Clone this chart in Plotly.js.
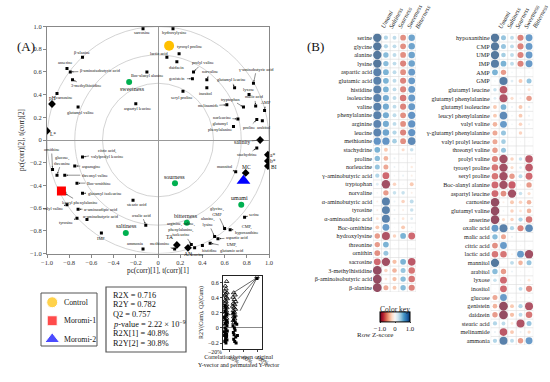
<!DOCTYPE html>
<html><head><meta charset="utf-8">
<script src="https://cdn.plot.ly/plotly-3.0.1.min.js"></script>
<style>html,body{margin:0;padding:0;background:#fff}#chart{width:550px;height:382px}</style>
</head><body><div id="chart"></div>
<script>
// ================= Panel A data =================
const groupNames = ['Control','Moromi-1','Moromi-2'];
const groupX = [0.10, -0.87, 0.77];
const groupY = [0.83, -0.45, -0.36];

const varNames = ['sarcosine','hydroxylysine','lactic acid','tyrosyl proline','daidzein','Boc-alanyl alanine','prolyl valine','norvaline','genistein','inositol','seryl proline','aspartyl leucine','β-alanine','anserine','β-aminoisobutyric acid','3-methylhistidine','carnosine','glutamyl valine','γ-aminobutyric acid','glutamyl leucine','lyxose','tryptophan','malic acid','AMP','melinamide','norleucine','glutamyl<br>phenylalanine','proline','arabitol','stachydrine','mannitol','serine','glycine,<br>GMP','alanine,<br>lysine','CMP,<br>hypoxanthine','aspartic acid','UMP,<br>glutamic acid','histidine','leucine','arginine, valine,<br>phenylalanine,<br>isoleucine','methionine','ammonia','IMP','oxalic acid','stearic acid','citric acid,<br>valylprolyl leucine','ornithine','glucose,<br>threonine','asparagine','threonyl valine','Boc-ornithine','leucyl phenylalanine','glutamyl isoleucine','valyl valine','α-aminoadipic acid','tyrosine','α-aminobutyric acid'];
const varX = [-0.135,0.135,0.08,0.19,0.17,-0.10,0.32,0.44,0.31,0.44,0.225,-0.20,-0.68,-0.82,-0.79,-0.77,-0.91,-0.72,0.86,0.69,0.82,0.77,0.88,0.96,0.62,0.72,0.68,0.89,0.94,0.89,0.70,0.78,0.60,0.51,0.65,0.54,0.47,0.40,0.33,0.30,0.15,-0.135,-0.51,-0.11,-0.225,-0.68,-0.95,-0.91,-0.75,-0.84,-0.73,-0.84,-0.68,-0.82,-0.72,-0.73,-0.64];
const varY = [0.98,0.98,0.73,0.76,0.69,0.60,0.60,0.53,0.54,0.46,0.43,0.32,0.73,0.63,0.60,0.53,0.41,0.29,0.50,0.46,0.40,0.29,0.30,0.26,0.31,0.185,0.12,0.18,0.17,-0.07,-0.28,-0.68,-0.78,-0.85,-0.79,-0.87,-0.91,-0.93,-0.95,-0.92,-0.96,-0.96,-0.82,-0.75,-0.53,-0.15,-0.26,-0.31,-0.23,-0.31,-0.38,-0.47,-0.47,-0.57,-0.61,-0.69,-0.70];

const propNames = ['pH','L*','a*','b*','BI','salinity','MC','TA','AN'];
const propX = [-0.955,-1.0,0.99,0.99,0.99,0.92,0.79,0.17,0.27];
const propY = [0.317,0.08,-0.13,-0.185,-0.23,0.0,-0.29,-0.925,-0.95];

const tasteNames = ['sweetness','sourness','umami','bitterness','saltiness'];
const tasteX = [-0.26,0.153,0.75,0.26,-0.29];
const tasteY = [0.51,-0.38,-0.57,-0.73,-0.82];

const axTicks = [-1,-0.8,-0.6,-0.4,-0.2,0,0.2,0.4,0.6,0.8,1];
const axTickText = ['−1.0','−0.8','−0.6','−0.4','−0.2','0','0.2','0.4','0.6','0.8','1.0'];
const guideRadii = [0.5,0.75,1.0];

const statLines = ['R2X = 0.716','R2Y = 0.782','Q2 = 0.757','<i>p</i>-value = 2.22 × 10<sup>−9</sup>','R2X[1] = 40.8%','R2Y[2] = 30.8%'];

// permutation test
const permTriX = [0.10,0.06,0.08,0.05,0.11,0.07,0.04,0.09,0.12,0.06,0.08,0.05,0.10,0.07,0.11,0.04,0.09,0.06,0.12,0.08,0.05,0.10,0.07,0.03,0.09,0.06,
                  0.31,0.35,0.29,0.33,0.37,0.30,0.34,0.28,0.32,0.36,0.30,0.33,0.29,0.35,0.31,0.34,0.30,0.32, 1.0];
const permTriY = [0.62,0.56,0.52,0.49,0.47,0.45,0.43,0.41,0.39,0.37,0.35,0.33,0.31,0.29,0.27,0.25,0.23,0.21,0.19,0.17,0.15,0.13,0.11,0.09,0.07,0.05,
                  0.47,0.44,0.41,0.38,0.35,0.33,0.31,0.29,0.27,0.25,0.23,0.21,0.19,0.17,0.15,0.12,0.10,0.07, 0.68];
const permSqX = [0.05,0.08,0.06,0.10,0.04,0.09,0.07,0.11,0.05,0.08,0.12,0.06,0.10,0.04,0.09,0.07,0.11,0.05,0.08,0.12,0.03,0.10,0.06,
                 0.30,0.34,0.31,0.36,0.29,0.33,0.35,0.30,0.32,0.37,0.31,0.34,0.38,0.40,0.42, 1.0];
const permSqY = [0.30,0.26,0.22,0.18,0.14,0.10,0.06,0.03,0.0,-0.02,-0.04,-0.06,-0.08,-0.10,-0.12,-0.14,-0.16,-0.18,-0.20,0.08,-0.05,-0.11,-0.17,
                 0.20,0.15,0.11,0.07,0.03,0.0,-0.03,-0.06,-0.09,-0.12,-0.15,-0.18,-0.20,0.05,-0.10, 0.66];
const permLineX = [[1.0,0.30],[1.0,0.44],[1.0,0.50]];
const permLineY = [[0.67,0.47],[0.67,0.39],[0.67,0.23]];

// ================= Panel B data =================
const heatCols = ['Umami','Saltiness','Sourness','Sweetness','Bitterness'];
const leftRows = ['serine','glycine','alanine','lysine','aspartic acid','glutamic acid','histidine','isoleucine','valine','phenylalanine','arginine','leucine','methionine','stachydrine','proline','norleucine','γ-aminobutyric acid','tryptophan','norvaline','α-aminobutyric acid','tyrosine','α-aminoadipic acid','Boc-ornithine','hydroxylysine','threonine','ornithin','sacrosine','3-methylhistidine','β-aminoisobutyric acid','β-alanine'];
const leftVals = [
 [0.95,0.40,0.35,-0.60,0.70],[0.95,0.40,0.35,-0.60,0.70],[0.95,0.55,0.35,-0.60,0.70],[0.95,0.55,0.35,-0.65,0.70],
 [0.90,0.60,0.35,-0.60,0.75],[0.90,0.60,0.35,-0.65,0.75],[0.90,0.60,0.35,-0.65,0.75],[0.90,0.65,0.35,-0.70,0.75],
 [0.90,0.65,0.35,-0.65,0.75],[0.90,0.65,0.35,-0.60,0.80],[0.88,0.65,0.35,-0.60,0.80],[0.88,0.70,0.40,-0.65,0.80],
 [0.80,0.80,0.45,-0.60,0.85],[0.60,-0.35,0.05,-0.25,0.30],[0.55,-0.45,0.10,0.02,-0.05],[0.50,-0.50,0.10,0.02,-0.15],
 [0.40,-0.75,0.05,0.10,-0.10],[0.20,-0.95,-0.30,0.03,-0.35],[0.05,-0.55,0.30,0.30,-0.10],[-0.10,0.90,0.10,-0.30,0.35],
 [-0.10,0.90,0.10,-0.10,0.30],[-0.20,0.90,0.10,-0.20,0.20],[-0.35,0.75,0.0,-0.35,0.05],[-0.55,-0.90,-0.30,0.60,-0.75],
 [-0.55,0.60,0,0,0],[-0.60,0.50,0,0,0],[-0.75,-0.95,-0.40,0.60,-0.85],[-1.0,-0.30,-0.45,0.50,-0.70],
 [-1.0,-0.20,-0.40,0.55,-0.70],[-1.0,-0.50,-0.35,0.55,-0.65]];
const rightRows = ['hypoxanthine','CMP','UMP','IMP','AMP','GMP','glutamyl leucine','glutamyl phenylalanine','glutamyl isoleucine','leucyl phenylalanine','valyl valine','γ-glutamyl phenylalanine','valyl prolyl leucine','threonyl valine','prolyl valine','tyrosyl proline','seryl proline','Boc-alanyl alanine','aspartyl leucine','carnosine','glutamyl valine','anserine','oxalic acid','malic acid','citric acid','lactic acid','mannitol','arabitol','lyxose','inositol','glucose','genistein','daidzein','stearic acid','melinamide','ammonia'];
const rightVals = [
 [0.95,0.50,0.35,-0.65,0.75],[0.95,0.50,0.35,-0.65,0.75],[0.95,0.45,0.35,-0.65,0.75],[0.92,0.60,0.35,-0.65,0.75],
 [0.60,-0.55,0.05,0.02,0.03],[0.05,0.92,0.20,-0.35,0.50],[0.30,-0.85,0.05,0.03,-0.20],[0.20,-0.90,-0.25,0.10,-0.55],
 [-0.35,0.60,0.10,-0.35,0.15],[-0.35,0.85,0.05,-0.35,0.10],[-0.45,0.75,0.05,-0.30,0.10],[-0.50,0.50,0,-0.30,0],
 [-0.50,0.45,0,0,0],[-0.55,0.50,0,0,0],[-0.65,-0.95,-0.30,0.30,-0.85],[-0.70,-0.95,-0.25,0.20,-0.85],
 [-0.70,-0.95,-0.55,0.35,-0.75],[-0.75,-0.95,-0.80,0.05,-0.55],[-0.75,-0.60,-0.95,0.30,-0.25],[-1.0,-0.10,-0.35,-0.30,-0.45],
 [-1.0,0.05,-0.30,-0.20,-0.45],[-1.0,-0.25,-0.30,0.40,-0.70],[0.75,0.90,0.40,-0.65,0.85],[0.55,-0.50,0.10,0,0],
 [-0.60,0.75,0,0,0],[-0.70,-0.70,-0.10,0.75,-0.95],[0.95,0,0.35,-0.45,0.50],[0.55,-0.55,0.10,0,0],
 [0.30,-0.75,0,0.05,-0.20],[0,-0.75,0,0.35,-0.65],[-0.50,0.75,0,-0.05,0.05],[-0.45,-1.0,-0.35,0.40,-0.90],
 [-0.55,-1.0,-0.40,0.35,-0.70],[0.40,0.35,-0.20,-0.90,0.50],[0.10,-0.85,-0.35,0.10,-0.25],[0.40,0.90,0.35,-0.55,0.75]];

// ================= styles / layout helpers =================
const W = 550, H = 382;
const px = p => p / W, py = p => (H - p) / H;
const SERIF = 'Liberation Serif, Times New Roman, serif';
// label offsets (pixels) for biplot variable labels: [dx, dy, arrow]
const varLab = [[-1,4,0],[2,4,0],[-8,-4,0],[10,-7,0],[0,6,0],[0,4,0],[9,-9,1],[3,-8,1],[-15,0,1],[-1,6,0],[-1,6,0],[2,5,0],[-1,-5,0],[-2,-6,0],[30,-1,1],[13,6,1],[8,4,0],[2,5,0],[3,-14,1],[-3,-8,1],[-1,-5,0],[-13,-8,1],[-1,-9,1],[1,-8,1],[-19,1,1],[-16,-1,1],[-13,0,1],[-8,8,1],[2,7,0],[-10,7,1],[-11,-5,1],[9,-3,1],[-8,-17,1],[-7,-15,1],[16,0,1],[19,-1,1],[22,4,1],[7,5,0],[2,7,0],[-10,-15,1],[-15,-5,1],[-8,-5,1],[0,5,0],[-4,-10,1],[4,4,0],[24,-4,1],[-1,-20,1],[5,-15,1],[16,0,1],[30,0,1],[22,0,1],[15,9,1],[22,0,1],[-14,4,1],[23,0,1],[-11,4,1],[14,-3,1]];
const propLab = [[0,-6],[6,3],[5,0],[5,0],[6,1],[-18,2],[1,-6],[-7,-8],[0,6]];
const tasteLab = [[3,7],[0,-6],[-2,-7],[-1,-7],[1,-7]];
const groupColors = ['#ffc000','#ff0000','#0000ff'];
const groupSymbols = ['circle','square','triangle-up'];
const groupSizes = [10,9,12];
const RdBu = [[0,'#67001f'],[0.1,'#b2182b'],[0.2,'#d6604d'],[0.3,'#f4a582'],[0.4,'#fddbc7'],[0.5,'#f7f7f7'],[0.6,'#d1e5f0'],[0.7,'#92c5de'],[0.8,'#4393c3'],[0.9,'#2166ac'],[1,'#053061']];

const traces = [];
const annotations = [];
const shapes = [];

// guide circles
guideRadii.forEach(r => shapes.push({type:'circle', xref:'x', yref:'y', x0:-r, x1:r, y0:-r, y1:r, line:{color:'#c8c8c8', width:0.8}, layer:'below'}));

// biplot traces
traces.push({type:'scatter', mode:'markers', x:varX, y:varY, xaxis:'x', yaxis:'y', marker:{symbol:'square', size:3, color:'#000'}, hoverinfo:'skip'});
traces.push({type:'scatter', mode:'markers', x:propX, y:propY, xaxis:'x', yaxis:'y', marker:{symbol:'diamond', size:6, color:'#000'}, hoverinfo:'skip'});
traces.push({type:'scatter', mode:'markers', x:tasteX, y:tasteY, xaxis:'x', yaxis:'y', marker:{symbol:'circle', size:6, color:'#00b050'}, hoverinfo:'skip'});
groupNames.forEach((g,i) => traces.push({type:'scatter', mode:'markers', x:[groupX[i]], y:[groupY[i]], xaxis:'x', yaxis:'y', marker:{symbol:groupSymbols[i], size:groupSizes[i], color:groupColors[i]}, hoverinfo:'skip'}));

function biLabel(text, x, y, dx, dy, arrow, size, color) {
  const a = {x, y, xref:'x', yref:'y', text, font:{family:SERIF, size, color}, align:'center'};
  if (arrow) Object.assign(a, {showarrow:true, ax:dx, ay:dy, arrowhead:2, arrowsize:0.6, arrowwidth:0.5, arrowcolor:'#222', standoff:1.5});
  else Object.assign(a, {showarrow:false, xshift:dx, yshift:-dy});
  annotations.push(a);
}
varNames.forEach((n,i) => biLabel(n, varX[i], varY[i], varLab[i][0], varLab[i][1], varLab[i][2], 4.3, '#111'));
propNames.forEach((n,i) => biLabel(n, propX[i], propY[i], propLab[i][0], propLab[i][1], n==='salinity', 5.5, '#111'));
tasteNames.forEach((n,i) => biLabel(n, tasteX[i], tasteY[i], tasteLab[i][0], tasteLab[i][1], 0, 6, '#111'));

// permutation plot
traces.push({type:'scatter', mode:'markers', x:permTriX, y:permTriY, xaxis:'x2', yaxis:'y2', marker:{symbol:'triangle-up-open', size:4, color:'#000', line:{width:0.8, color:'#000'}}, hoverinfo:'skip'});
traces.push({type:'scatter', mode:'markers', x:permSqX, y:permSqY, xaxis:'x2', yaxis:'y2', marker:{symbol:'square', size:3, color:'#000'}, hoverinfo:'skip'});
permLineX.forEach((lx,i) => traces.push({type:'scatter', mode:'lines', x:lx, y:permLineY[i], xaxis:'x2', yaxis:'y2', line:{color:'#000', width:0.6}, hoverinfo:'skip'}));

// heat circles
function heatTrace(rows, vals, xa, ya, withScale) {
  const x=[], y=[], c=[], s=[];
  rows.forEach((r,i) => vals[i].forEach((v,j) => { x.push(j); y.push(i); c.push(v); s.push(1.3 + 7.4*Math.abs(v)); }));
  const t = {type:'scatter', mode:'markers', x, y, xaxis:xa, yaxis:ya, hoverinfo:'skip',
    marker:{size:s, color:c, colorscale:RdBu, cmin:-1, cmax:1, line:{width:0}, showscale:withScale}};
  if (withScale) t.marker.colorbar = {orientation:'h', x:px(395), xanchor:'center', y:py(318), yanchor:'middle',
     len:30, lenmode:'pixels', thickness:10, thicknessmode:'pixels', xpad:0, ypad:0,
     outlinewidth:1, outlinecolor:'#000', tickvals:[-1,0,1], ticktext:['−1.0','0','1.0'], ticks:'outside', ticklen:1,
     tickfont:{family:SERIF, size:6.8, color:'#222'}, title:{text:'Color key', side:'top', font:{family:SERIF, size:7.5, color:'#222'}}};
  return t;
}
traces.push(heatTrace(leftRows, leftVals, 'x3', 'y3', true));
traces.push(heatTrace(rightRows, rightVals, 'x4', 'y4', false));

function gridShapes(nRows, xa, ya) {
  for (let j=0;j<=heatCols.length;j++) shapes.push({type:'line', xref:xa, yref:ya, x0:j-0.5, x1:j-0.5, y0:-0.5, y1:nRows-0.5, line:{color:'#dcdcdc', width:0.6}, layer:'below'});
  for (let i=0;i<=nRows;i++) shapes.push({type:'line', xref:xa, yref:ya, x0:-0.5, x1:heatCols.length-0.5, y0:i-0.5, y1:i-0.5, line:{color:'#dcdcdc', width:0.6}, layer:'below'});
  heatCols.forEach((h,j) => annotations.push({x:j-0.15, y:-0.45, xref:xa, yref:ya, text:'<i>'+h+'</i>', showarrow:false, textangle:-62, xanchor:'left', yanchor:'bottom', yshift:2, font:{family:SERIF, size:6.3, color:'#222'}}));
}
gridShapes(leftRows.length, 'x3', 'y3');
gridShapes(rightRows.length, 'x4', 'y4');

// legend (own axes)
traces.push({type:'scatter', mode:'markers', x:[0.2,0.2,0.2], y:[0,1,2], xaxis:'x5', yaxis:'y5', marker:{symbol:groupSymbols, size:[11,10,13], color:groupColors}, hoverinfo:'skip'});
groupNames.forEach((g,i) => annotations.push({x:0.38, y:i, xref:'x5', yref:'y5', text:g, showarrow:false, xanchor:'left', font:{family:SERIF, size:7.8, color:'#111'}}));
shapes.push({type:'rect', xref:'paper', yref:'paper', x0:px(41), x1:px(97), y0:py(346), y1:py(293), line:{color:'#555', width:1}});

// stats box
shapes.push({type:'rect', xref:'paper', yref:'paper', x0:px(106), x1:px(186), y0:py(352), y1:py(287), line:{color:'#555', width:1.2}});
const statY = [295,304.6,314,323.5,333.5,343];
statLines.forEach((t,i) => annotations.push({x:px(111), y:py(statY[i]), xref:'paper', yref:'paper', text:t, showarrow:false, xanchor:'left', yanchor:'middle', font:{family:SERIF, size:8.3, color:'#111'}}));

// texts
annotations.push({x:px(15), y:py(37), xref:'paper', yref:'paper', text:'(A)', showarrow:false, font:{family:SERIF, size:13, color:'#111'}});
annotations.push({x:px(315), y:py(37), xref:'paper', yref:'paper', text:'(B)', showarrow:false, font:{family:SERIF, size:13, color:'#111'}});
annotations.push({x:px(238), y:py(369.5), xref:'paper', yref:'paper', text:'Correlation between original<br>Y-vector and permutated Y-vector', showarrow:false, font:{family:SERIF, size:6, color:'#111'}});
annotations.push({x:px(214.5), y:py(357), xref:'paper', yref:'paper', text:'−20%', showarrow:false, font:{family:SERIF, size:5.8, color:'#111'}});
annotations.push({x:px(395), y:py(341), xref:'paper', yref:'paper', text:'Row Z-score', showarrow:false, font:{family:SERIF, size:7, color:'#222'}});

const hidden = {visible:false, fixedrange:true};
const layout = {
  width:W, height:H, margin:{l:0,r:0,t:0,b:0, autoexpand:false}, paper_bgcolor:'#fff', plot_bgcolor:'rgba(0,0,0,0)', showlegend:false,
  font:{family:SERIF},
  xaxis:{domain:[px(47),px(269)], range:[-1,1], anchor:'y', tickvals:axTicks, ticktext:axTickText, ticks:'outside', ticklen:3, tickcolor:'#888',
    showline:true, mirror:true, linecolor:'#888', linewidth:1, showgrid:false, zeroline:true, zerolinecolor:'#999', zerolinewidth:1,
    tickfont:{family:SERIF, size:6.5, color:'#333'}, title:{text:'pc(corr)[1], t(corr)[1]', standoff:2, font:{family:SERIF, size:7.2, color:'#222'}}},
  yaxis:{domain:[py(253.5),py(26.5)], range:[-1,1], anchor:'x', tickvals:axTicks, ticktext:axTickText, ticks:'outside', ticklen:3, tickcolor:'#888',
    showline:true, mirror:true, linecolor:'#888', linewidth:1, showgrid:false, zeroline:true, zerolinecolor:'#999', zerolinewidth:1,
    tickfont:{family:SERIF, size:6.5, color:'#333'}, title:{text:'pc(corr)[2], t(corr)[2]', standoff:4, font:{family:SERIF, size:7.2, color:'#222'}}},
  xaxis2:{domain:[px(223),px(262)], range:[-0.007,1.148], anchor:'y2', tickvals:[0.2,0.6,1.0], ticktext:['20%','60%','100%'], ticks:'outside', ticklen:2,
    showline:true, mirror:true, linecolor:'#222', showgrid:false, zeroline:false, tickfont:{family:SERIF, size:5.8, color:'#111'}},
  yaxis2:{domain:[py(349),py(276)], range:[-0.28,0.693], anchor:'x2', tickvals:[-0.2,0,0.2,0.4,0.6], ticktext:['−0.2','0','0.2','0.4','0.6'], ticks:'outside', ticklen:2,
    showline:true, mirror:true, linecolor:'#222', showgrid:false, zeroline:true, zerolinecolor:'#888', zerolinewidth:1,
    tickfont:{family:SERIF, size:6, color:'#111'}, title:{text:'R2Y(Cum), Q2(Cum)', standoff:3, font:{family:SERIF, size:6, color:'#111'}}},
  xaxis3:{domain:[px(373),px(416)], range:[-0.5,4.5], anchor:'y3', showticklabels:false, showgrid:false, zeroline:false, ticks:''},
  yaxis3:{domain:[py(292),py(33.4)], range:[leftRows.length-0.5,-0.5], anchor:'x3', tickvals:leftRows.map((r,i)=>i), ticktext:leftRows, ticks:'',
    showgrid:false, zeroline:false, tickfont:{family:SERIF, size:6.2, color:'#222'}},
  xaxis4:{domain:[px(490.7),px(533.3)], range:[-0.5,4.5], anchor:'y4', showticklabels:false, showgrid:false, zeroline:false, ticks:''},
  yaxis4:{domain:[py(345.1),py(33.4)], range:[rightRows.length-0.5,-0.5], anchor:'x4', tickvals:rightRows.map((r,i)=>i), ticktext:rightRows, ticks:'',
    showgrid:false, zeroline:false, tickfont:{family:SERIF, size:6.2, color:'#222'}},
  xaxis5:Object.assign({domain:[px(41),px(97)], range:[0,1], anchor:'y5'}, hidden),
  yaxis5:Object.assign({domain:[py(348.5),py(293)], range:[2.5,-0.5], anchor:'x5'}, hidden),
  shapes, annotations
};
Plotly.newPlot('chart', traces, layout, {staticPlot:true, displayModeBar:false});
</script></body></html>
